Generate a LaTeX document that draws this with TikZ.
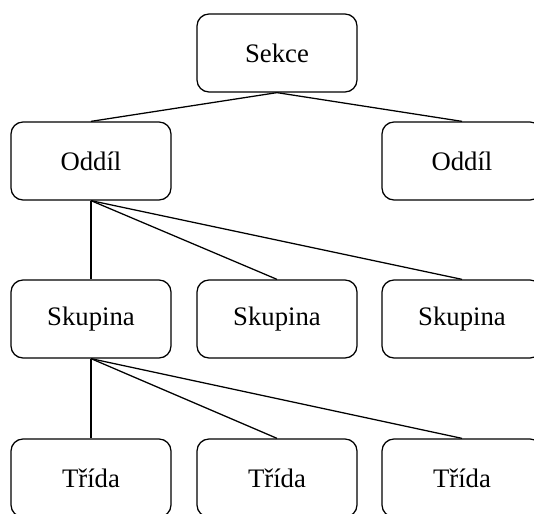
\documentclass[tikz,border=0pt]{standalone}
\usepackage{fontspec}
\setmainfont{Liberation Serif}
\usepackage{tikz}
\tikzset{
  box/.style={draw, line width=0.9pt, rounded corners=0.3cm, minimum width=4cm, minimum height=1.95cm, font=\fontsize{19}{22}\selectfont},
  link/.style={line width=0.9pt}
}
\begin{document}
\begin{tikzpicture}
\useasboundingbox (0,0) rectangle (13.35,-12.85);
\clip (0,0) rectangle (13.35,-12.85);
\node[box] (sekce) at (6.925,-1.325) {Sekce};

\node[box] (oddil1) at (2.275,-4.025) {Oddíl};
\node[box] (oddil2) at (11.55,-4.025) {Oddíl};

\node[box] (skup1) at (2.275,-7.975) {Skupina};
\node[box] (skup2) at (6.925,-7.975) {Skupina};
\node[box] (skup3) at (11.55,-7.975) {Skupina};

\node[box] (trida1) at (2.275,-11.95) {Třída};
\node[box] (trida2) at (6.925,-11.95) {Třída};
\node[box] (trida3) at (11.55,-11.95) {Třída};

\draw[link] (oddil1.north)--(sekce.south)--(oddil2.north);
\foreach \s in {skup1,skup2,skup3}
  \draw[link] (oddil1.south)--(\s.north);
\foreach \t in {trida1,trida2,trida3}
  \draw[link] (skup1.south)--(\t.north);
\end{tikzpicture}
\end{document}
